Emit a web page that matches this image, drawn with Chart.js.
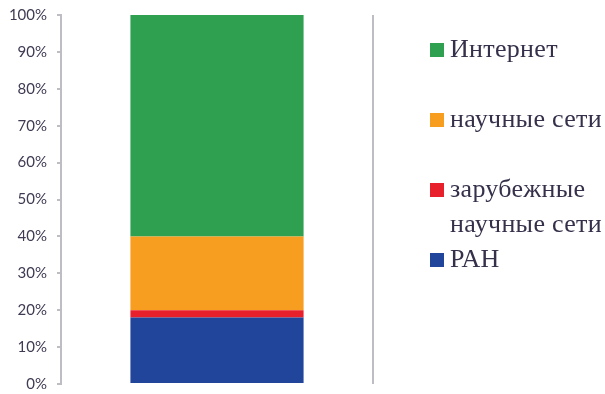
<!DOCTYPE html>
<html>
<head>
<meta charset="utf-8">
<title>Источники</title>
<script src="https://cdn.jsdelivr.net/npm/chart.js@4/dist/chart.umd.min.js"></script>
<style>
  html, body { margin: 0; padding: 0; background: #fff; overflow: hidden; }
  #wrap { position: relative; width: 605px; height: 394px; overflow: hidden; }
  /* холст чуть выше окна, чтобы область построения шла с 15 по 383 px */
  #chart { position: absolute; left: 0; top: -4px; }
  #legend { position: absolute; left: 430px; top: 31px; width: 195px; color: #36304a; }
  .item { position: absolute; left: 0; display: flex; align-items: flex-start; }
  .box { width: 14px; height: 14px; flex: none; margin: 12px 6px 0 0; }
  .txt { line-height: 35px; width: 172px; letter-spacing: 0.3px;
         font-family: 'Liberation Serif', 'Times New Roman', serif; font-size: 26px; }
</style>
</head>
<body>
<div id="wrap">
  <canvas id="chart" width="605" height="407"></canvas>
  <div id="legend"></div>
</div>
<script>
// доли источников, снизу вверх
const categories = [''];
const seriesNames = ['РАН', 'зарубежные научные сети', 'научные сети', 'Интернет'];
const seriesValues = [[18], [2], [20], [60]];
const seriesColors = ['#21459a', '#e8202b', '#f79d1f', '#2fa050'];
const tickLabels = ['0%', '10%', '20%', '30%', '40%', '50%', '60%', '70%', '80%', '90%', '100%'];

// вертикальная линия по правому краю области построения
const rightBorder = {
    id: 'rightBorder',
    afterDraw(chart) {
        const { ctx, chartArea } = chart;
        ctx.save();
        ctx.strokeStyle = '#bdbdc3';
        ctx.lineWidth = 2;
        ctx.beginPath();
        ctx.moveTo(chartArea.right, chartArea.top);
        ctx.lineTo(chartArea.right, chartArea.bottom);
        ctx.stroke();
        ctx.restore();
    }
};

const ctx = document.getElementById('chart').getContext('2d');
const chart = new Chart(ctx, {
    type: 'bar',
    data: {
        labels: categories,
        datasets: seriesNames.map((name, i) => ({
            label: name,
            data: seriesValues[i],
            backgroundColor: seriesColors[i],
            borderWidth: 0,
            categoryPercentage: 0.555,
            barPercentage: 1
        }))
    },
    options: {
        responsive: false,
        animation: false,
        layout: { padding: { top: 11, right: 232, bottom: 2, left: 0 } },
        plugins: { legend: { display: false }, tooltip: { enabled: false } },
        scales: {
            x: { stacked: true, display: false },
            y: {
                stacked: true,
                min: 0,
                max: 100,
                afterFit(scale) { scale.width = 61; },
                afterBuildTicks(scale) {
                    scale.ticks = tickLabels.map((t, i) => ({ value: i * 10 }));
                },
                grid: { drawOnChartArea: false, drawTicks: true, tickLength: 4, color: '#bdbdc3', lineWidth: 2 },
                border: { color: '#bdbdc3', width: 2 },
                ticks: {
                    padding: 10,
                    color: '#403a52',
                    font: { family: 'Lato, "Open Sans", sans-serif', size: 15 },
                    callback: (v, i) => tickLabels[i]
                }
            }
        }
    },
    plugins: [rightBorder]
});

// легенда справа, сверху вниз; строки по 35 px, номер строки для каждого пункта
const legendRows = [0, 2, 4, 6];
const legend = document.getElementById('legend');
chart.data.datasets.slice().reverse().forEach((ds, i) => {
    const item = document.createElement('div');
    item.className = 'item';
    item.style.top = (legendRows[i] * 35) + 'px';
    const box = document.createElement('span');
    box.className = 'box';
    box.style.background = ds.backgroundColor;
    const txt = document.createElement('span');
    txt.className = 'txt';
    txt.textContent = ds.label;
    item.appendChild(box);
    item.appendChild(txt);
    legend.appendChild(item);
});
</script>
</body>
</html>
